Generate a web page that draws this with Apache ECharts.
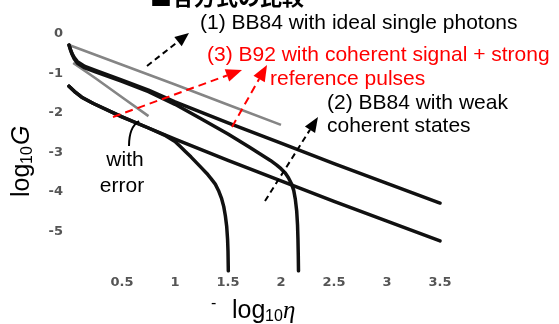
<!DOCTYPE html>
<html><head><meta charset="utf-8">
<script src="https://cdn.jsdelivr.net/npm/echarts@6/dist/echarts.min.js"></script>
<style>html,body{margin:0;padding:0;background:#fff}#c{width:559px;height:324px}</style>
</head><body><div id="c"></div>
<script>
// ---- data (x = -log10 eta, y = log10 G) ----
const xTicks = [0.5, 1, 1.5, 2, 2.5, 3, 3.5];
const yTicks = [0, -1, -2, -3, -4, -5];

// gray curves (no error)
const singleIdealX = [0, 0.5, 1, 1.5, 2];
const singleIdealY = [-0.28, -0.78, -1.28, -1.79, -2.3];
const weakIdealX = [0.04, 0.25, 0.5, 0.75];
const weakIdealY = [-0.73, -1.12, -1.6, -2.08];

// black curves (with error)
const b92X = [0, 0.015, 0.03, 0.05, 0.08, 0.15, 0.25, 0.5, 0.75, 1.0, 1.5, 2.0, 2.5, 3.0, 3.5];
const b92Y = [-0.28, -0.4, -0.5, -0.6, -0.7, -0.82, -0.92, -1.17, -1.42, -1.72, -2.25, -2.76, -3.28, -3.78, -4.28];
const singleErrX = [0, 0.015, 0.03, 0.05, 0.08, 0.15, 0.25, 0.5, 0.75, 1.0, 1.25, 1.5, 1.7, 1.8, 1.9, 1.96, 2.0, 2.04, 2.07, 2.1, 2.12, 2.135, 2.148, 2.156, 2.16, 2.163, 2.165];
const singleErrY = [-0.28, -0.41, -0.52, -0.63, -0.74, -0.86, -0.96, -1.2, -1.46, -1.78, -2.15, -2.53, -2.86, -3.03, -3.2, -3.32, -3.41, -3.52, -3.64, -3.8, -3.96, -4.18, -4.48, -4.84, -5.2, -5.6, -6];
const b92WeakX = [0, 0.05, 0.12, 0.23, 0.5, 0.75, 1.0, 1.5, 2.0, 2.5, 3.0, 3.5];
const b92WeakY = [-1.32, -1.45, -1.6, -1.76, -2.1, -2.38, -2.66, -3.2, -3.72, -4.24, -4.74, -5.24];
const weakErrX = [0, 0.05, 0.12, 0.23, 0.5, 0.75, 0.9, 1.0, 1.05, 1.1, 1.15, 1.2, 1.25, 1.3, 1.34, 1.38, 1.41, 1.44, 1.46, 1.475, 1.488, 1.496, 1.5, 1.503];
const weakErrY = [-1.32, -1.45, -1.6, -1.76, -2.1, -2.38, -2.56, -2.72, -2.85, -2.98, -3.11, -3.25, -3.39, -3.53, -3.66, -3.8, -3.96, -4.17, -4.37, -4.6, -4.88, -5.2, -5.5, -6];

const zip = (xs, ys) => xs.map((x, i) => [x, ys[i]]);

const chart = echarts.init(document.getElementById('c'), null, {renderer: 'canvas'});

const SANS = '"Liberation Sans", Arial, sans-serif';
function arrow(x1, y1, x2, y2, color, dash, headLen, headW) {
  const a = Math.atan2(y2 - y1, x2 - x1);
  const bx = x2 - headLen * Math.cos(a), by = y2 - headLen * Math.sin(a);
  const px = -Math.sin(a) * headW / 2, py = Math.cos(a) * headW / 2;
  return [
    {type: 'line', shape: {x1: x1, y1: y1, x2: bx, y2: by}, style: {stroke: color, lineWidth: 2, lineDash: dash}, z: 10},
    {type: 'polygon', shape: {points: [[x2, y2], [bx + px, by + py], [bx - px, by - py]]}, style: {fill: color}, z: 10}
  ];
}
function txt(s, x, y, color, font, align) {
  return {type: 'text', x: x, y: y, z: 11, style: {text: s, fill: color, font: font, textAlign: align || 'left', textVerticalAlign: 'middle'}};
}

const graphics = [].concat(
  [{type: 'text', x: 150, y: 8, z: 11, style: {text: '■各方式の比較', fill: '#000', font: 'bold 22px "Noto Sans CJK JP"', textAlign: 'left', textVerticalAlign: 'bottom'}}],
  arrow(147, 66, 189, 33, '#000', [6, 4], 14, 12),
  arrow(113, 117, 242, 70, '#ff0000', [8, 5], 16, 13),
  arrow(232, 127, 267, 65, '#ff0000', [8, 5], 16, 13),
  arrow(265, 201, 318, 117, '#000', [6, 4], 15, 12),
  [{type: 'bezierCurve', shape: {x1: 139, y1: 121, x2: 129, y2: 146, cpx1: 129, cpy1: 127}, style: {stroke: '#000', lineWidth: 2, fill: null}, z: 10}],
  [
    txt('(1) BB84 with ideal single photons', 200, 23, '#000', '21px ' + SANS),
    txt('(3) B92 with coherent signal + strong', 207, 55, '#ff0000', '21px ' + SANS),
    txt('reference pulses', 270, 79, '#ff0000', '21px ' + SANS),
    txt('(2) BB84 with weak', 327, 103, '#000', '21px ' + SANS),
    txt('coherent states', 327, 126, '#000', '21px ' + SANS),
    txt('with', 125, 160, '#000', '21px ' + SANS, 'center'),
    txt('error', 122, 186, '#000', '21px ' + SANS, 'center'),
    // x axis title
    txt('-', 211, 304, '#000', '16px ' + SANS),
    txt('log', 232, 311, '#000', '25px ' + SANS),
    txt('10', 265, 317, '#000', '16px ' + SANS),
    txt('η', 283, 311, '#000', 'italic 25px "Liberation Serif", serif')
  ],
  [{type: 'group', x: 22, y: 197, rotation: Math.PI / 2, z: 11, children: [
    {type: 'text', x: 0, y: 0, style: {text: 'log', fill: '#000', font: '25px ' + SANS, textAlign: 'left', textVerticalAlign: 'middle'}},
    {type: 'text', x: 33, y: 6, style: {text: '10', fill: '#000', font: '16px ' + SANS, textAlign: 'left', textVerticalAlign: 'middle'}},
    {type: 'text', x: 52, y: 0, style: {text: 'G', fill: '#000', font: 'italic 25px ' + SANS, textAlign: 'left', textVerticalAlign: 'middle'}}
  ]}]
);

const blackLine = {color: '#111', width: 3.5, join: 'round', cap: 'round'};
const grayLine = {color: '#858585', width: 2.6};
function ser(name, xs, ys, ls, z) {
  return {type: 'line', name: name, data: zip(xs, ys), showSymbol: false, symbol: 'none', smooth: false, lineStyle: ls, z: z, clip: true};
}

chart.setOption({
  animation: false,
  grid: {left: 69, right: 119, top: 34, bottom: 53, containLabel: false},
  xAxis: {
    type: 'value', min: 0, max: 3.5, interval: 0.5,
    axisLine: {show: false}, axisTick: {show: false}, splitLine: {show: false},
    axisLabel: {margin: 5, fontSize: 13, fontWeight: 'bold', color: '#555', fontFamily: 'DejaVu Sans',
      formatter: v => (xTicks.indexOf(v) >= 0 ? String(v) : '')}
  },
  yAxis: {
    type: 'value', min: -6, max: 0, interval: 1,
    axisLine: {show: false}, axisTick: {show: false}, splitLine: {show: false},
    axisLabel: {margin: 6, fontSize: 13, fontWeight: 'bold', color: '#555', fontFamily: 'DejaVu Sans',
      formatter: v => (yTicks.indexOf(v) >= 0 ? String(v) : '')}
  },
  series: [
    ser('BB84 ideal single photons', singleIdealX, singleIdealY, grayLine, 2),
    ser('BB84 weak coherent (no error)', weakIdealX, weakIdealY, grayLine, 2),
    ser('B92 strong reference', b92X, b92Y, blackLine, 3),
    ser('BB84 single photons with error', singleErrX, singleErrY, blackLine, 3),
    ser('B92 lower', b92WeakX, b92WeakY, blackLine, 3),
    ser('BB84 weak coherent with error', weakErrX, weakErrY, blackLine, 3)
  ],
  graphic: graphics
});
</script></body></html>
